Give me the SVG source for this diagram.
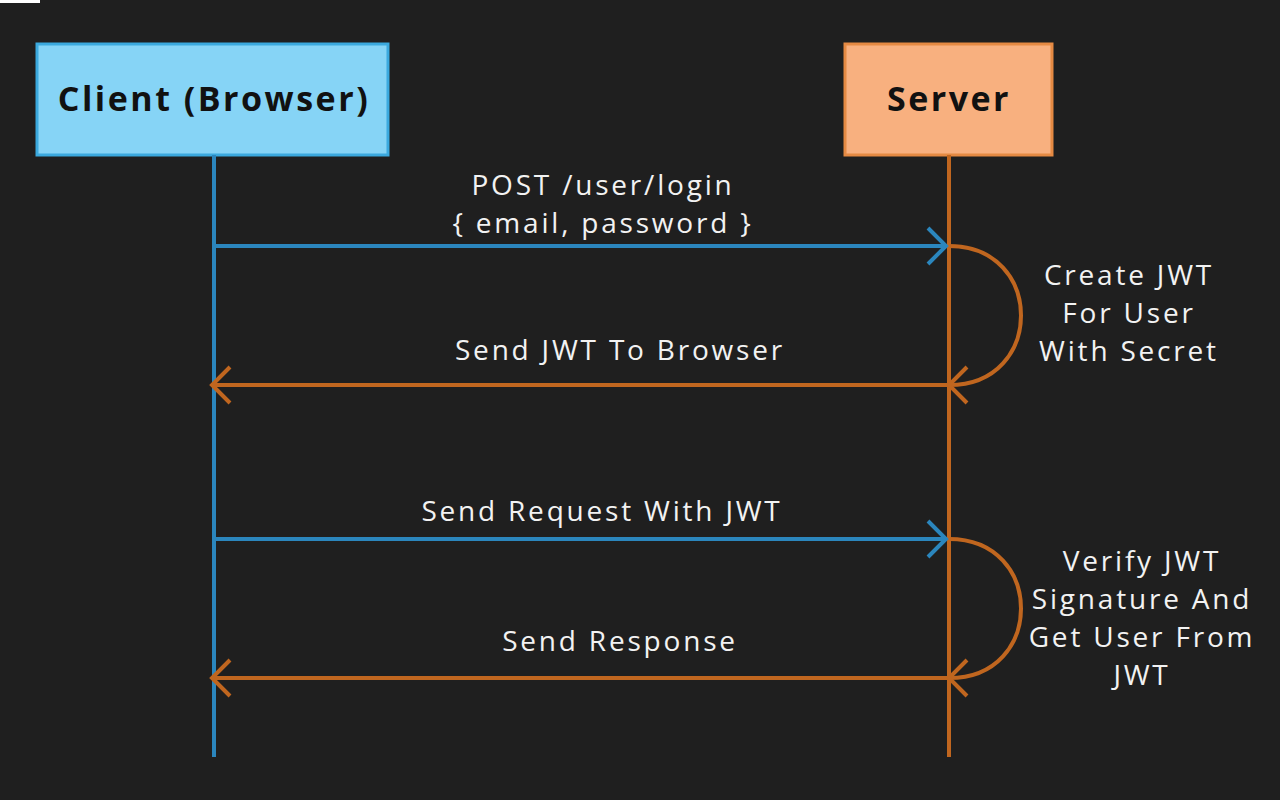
<svg xmlns="http://www.w3.org/2000/svg" width="1280" height="800" viewBox="0 0 1280 800">
<style>
.lbl{font-family:"Open Sans","Liberation Sans",sans-serif;font-size:28px;letter-spacing:2.8px;fill:#f2f2f2;text-anchor:middle}
.ttl{font-family:"Open Sans","Liberation Sans",sans-serif;font-size:34px;letter-spacing:2.5px;font-weight:bold;fill:#111;text-anchor:middle}
.blue{stroke:#2b86bd;stroke-width:4;fill:none}
.org{stroke:#c0661f;stroke-width:4;fill:none}
</style>
<rect width="1280" height="800" fill="#1f1f1f"/>
<rect x="0" y="0" width="40" height="3" fill="#ffffff"/>
<g id="client">
<rect x="37" y="44" width="351" height="111" fill="#86d4f6" stroke="#3ba9de" stroke-width="3"/>
<text class="ttl" x="214" y="111">Client (Browser)</text>
</g>
<g id="server">
<rect x="845" y="44" width="207" height="111" fill="#f8b07f" stroke="#e58a43" stroke-width="3"/>
<text class="ttl" x="949" y="111">Server</text>
</g>
<g id="connectors">
<line class="blue" x1="214" y1="155" x2="214" y2="757"/>
<line class="org" x1="949" y1="155" x2="949" y2="757"/>
<line class="blue" x1="214" y1="246" x2="946" y2="246"/>
<polyline class="blue" points="928,228 946,246 928,264"/>
<path class="org" d="M949,246 C1045,246 1045,385 949,385"/>
<line class="org" x1="949" y1="385" x2="212" y2="385"/>
<polyline class="org" points="230,367 212,385 230,403"/>
<polyline class="org" points="967,367 949,385 967,403"/>
<line class="blue" x1="214" y1="539" x2="946" y2="539"/>
<polyline class="blue" points="928,521 946,539 928,557"/>
<path class="org" d="M949,539 C1045,539 1045,678 949,678"/>
<line class="org" x1="949" y1="678" x2="212" y2="678"/>
<polyline class="org" points="230,660 212,678 230,696"/>
<polyline class="org" points="967,660 949,678 967,696"/>
</g>
<g id="labels">
<text class="lbl" x="603" y="195">POST  /user/login</text>
<text class="lbl" x="603" y="233">{ email, password }</text>
<text class="lbl" x="620" y="360">Send JWT To Browser</text>
<text class="lbl" x="602" y="521">Send Request With JWT</text>
<text class="lbl" x="620" y="651">Send Response</text>
<text class="lbl" x="1129" y="285">Create JWT</text>
<text class="lbl" x="1129" y="323">For User</text>
<text class="lbl" x="1129" y="361">With Secret</text>
<text class="lbl" x="1142" y="571">Verify JWT</text>
<text class="lbl" x="1142" y="609">Signature And</text>
<text class="lbl" x="1142" y="647">Get User From</text>
<text class="lbl" x="1142" y="685">JWT</text>
</g>
</svg>
